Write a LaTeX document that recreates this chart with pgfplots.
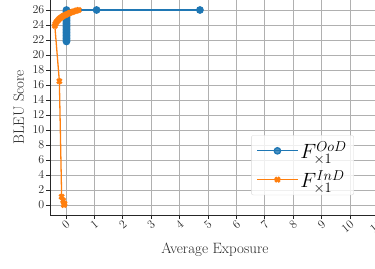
\documentclass[border=0pt]{standalone}
\usepackage{pgfplots}
\pgfplotsset{compat=1.18}
\definecolor{mplblue}{HTML}{1F77B4}
\definecolor{mplorange}{HTML}{FF7F0E}
\definecolor{gridgray}{HTML}{B0B0B0}
\begin{document}
\begin{tikzpicture}
\begin{axis}[
  at={(0,0)}, anchor=south west,
  scale only axis, width=329.7bp, height=215.5bp,
  xmin=-0.56, xmax=11.05, ymin=-1.33, ymax=27.4,
  xtick={0,1,...,11}, ytick={0,2,...,26},
  grid=major,
  major grid style={color=gridgray, line width=0.7pt},
  axis line style={color=black!85, line width=0.8pt},
  tick align=outside, tick pos=left,
  major tick length=3.5bp,
  every tick/.style={color=black!85, line width=0.7pt},
  tick label style={font=\fontsize{13}{15}\selectfont, color=black!85},
  xticklabel style={rotate=40, anchor=north east, inner sep=1pt},
  yticklabel style={inner sep=2pt},
  label style={font=\fontsize{15}{17}\selectfont, color=black!85},
  xlabel={Average Exposure},
  ylabel={BLEU Score},
  xlabel style={yshift=-4pt},
  ylabel style={yshift=3pt},
  legend cell align=left,
  legend style={at={(0.922,0.092)}, anchor=south east, draw=black!15,
    rounded corners=2pt, fill=white, fill opacity=0.8, text opacity=1,
    font=\huge, inner xsep=5pt, inner ysep=4pt, row sep=6pt},
  legend image code/.code={\draw[mark repeat=2,mark phase=2] plot coordinates {(0cm,0cm) (0.72cm,0cm) (1.44cm,0cm)};},
]
\addplot[color=mplblue, line width=1.3pt, mark=*, mark size=3.2pt, mark options={solid, fill=mplblue, draw=mplblue}] coordinates {
 (0.02,21.8) (0.02,22.0) (0.02,22.2) (0.02,22.4) (0.02,22.6) (0.02,22.8) (0.02,23.0) (0.02,23.2)
 (0.02,23.4) (0.02,23.6) (0.02,23.8) (0.02,24.0) (0.02,24.2) (0.02,24.4) (0.02,24.6) (0.02,24.8)
 (0.02,25.0) (0.02,25.2) (0.02,25.4) (0.02,25.6) (0.02,25.8) (0.02,26.0) (1.08,26.0) (4.72,26.0)
};
\addlegendentry{$F_{\times 1}^{OoD}$}
\addplot[color=mplorange, line width=1.3pt, mark=x, mark size=3.2pt, mark options={solid, line width=2.6pt, draw=mplorange}] coordinates {
 (-0.07,0.0) (-0.05,0.2) (-0.10,0.6) (-0.15,1.1) (-0.23,16.5) (-0.39,23.9) (-0.37,24.15)
 (-0.34,24.35) (-0.30,24.55) (-0.26,24.72) (-0.22,24.86) (-0.18,24.98) (-0.14,25.08)
 (-0.10,25.18) (-0.05,25.28) (0.00,25.37) (0.05,25.46) (0.10,25.55) (0.15,25.63)
 (0.20,25.70) (0.25,25.77) (0.30,25.83) (0.35,25.89) (0.40,25.95) (0.45,26.0)
};
\addlegendentry{$F_{\times 1}^{InD}$}
\end{axis}
\pgfresetboundingbox
\useasboundingbox (-50bp,-54bp) rectangle (325bp,215bp);
\end{tikzpicture}
\end{document}
